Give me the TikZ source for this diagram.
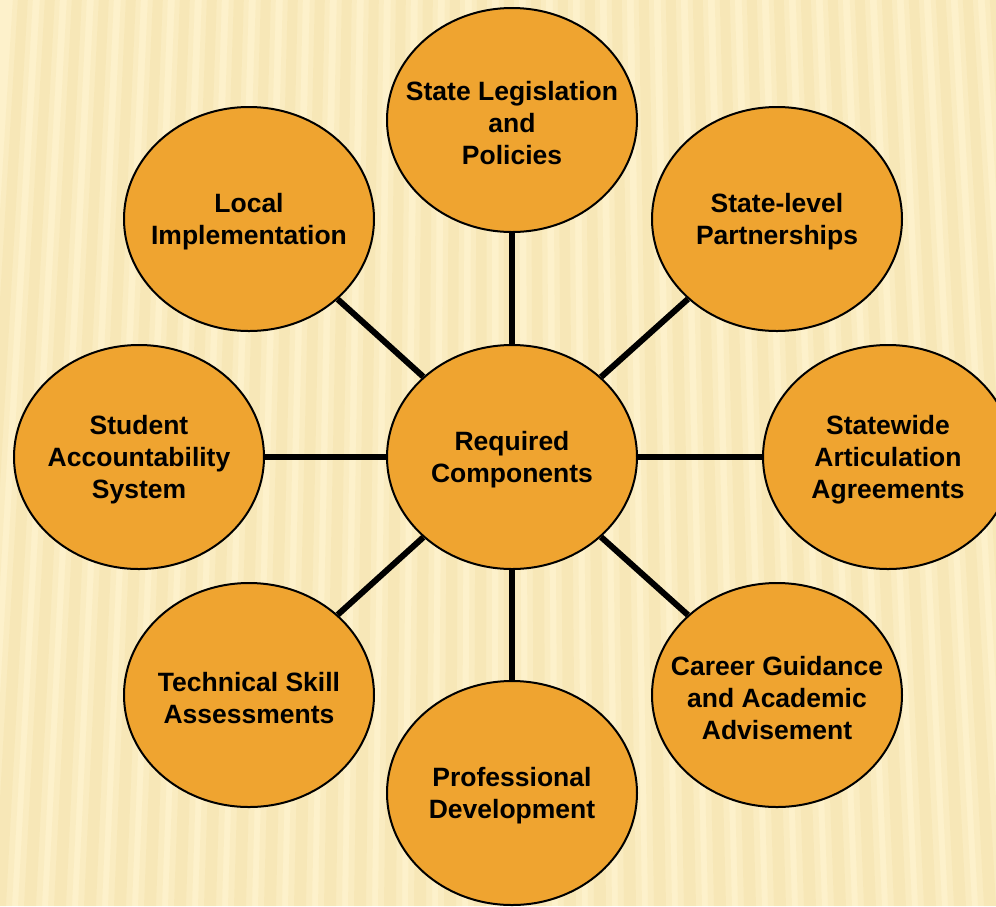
\documentclass[tikz,border=0pt]{standalone}
\usepackage{fontspec}
\setmainfont{Liberation Sans}
\usetikzlibrary{shapes.geometric}
\definecolor{bgcream}{HTML}{FDF1CB}
\definecolor{stripecol}{HTML}{EED691}
\definecolor{bubblecol}{HTML}{EFA430}
\tikzset{
  bubble/.style={ellipse, draw=black, line width=2pt, fill=bubblecol,
    minimum width=250pt, minimum height=224pt, inner sep=0pt},
  bubbletext/.style={align=center, inner sep=0pt, yshift=-3pt,
    font=\fontsize{26.5}{32}\selectfont\bfseries, text=black},
  conn/.style={draw=black, line width=6pt}
}
\begin{document}
\begin{tikzpicture}[x=1pt,y=-1pt]
\useasboundingbox (0,0) rectangle (996,906);
\begin{scope}
\clip (0,0) rectangle (996,906);
\fill[bgcream] (0,0) rectangle (996,906);
\foreach \x in {-30,0,...,1050} {
  \pgfmathsetmacro{\tx}{498+(\x-498)*0.9}
  \fill[stripecol, opacity=0.16] (\tx-10,0) -- (\tx+10,0) -- (\x+12,906) -- (\x-12,906) -- cycle;
  \fill[stripecol, opacity=0.2] (\tx-5,0) -- (\tx+5,0) -- (\x+6,906) -- (\x-6,906) -- cycle;
}
\end{scope}

\node[bubble, label={[bubbletext]center:Required\\Components}] (c) at (512,457) {};
\node[bubble, label={[bubbletext]center:State Legislation\\and\\Policies}] (t) at (512,120) {};
\node[bubble, label={[bubbletext]center:State-level\\Partnerships}] (tr) at (777,219) {};
\node[bubble, label={[bubbletext]center:Statewide\\Articulation\\Agreements}] (r) at (888,457) {};
\node[bubble, label={[bubbletext]center:Career Guidance\\and Academic\\Advisement}] (br) at (777,695) {};
\node[bubble, label={[bubbletext]center:Professional\\Development}] (b) at (512,793) {};
\node[bubble, label={[bubbletext]center:Technical Skill\\Assessments}] (bl) at (249,695) {};
\node[bubble, label={[bubbletext]center:Student\\Accountability\\System}] (l) at (139,457) {};
\node[bubble, label={[bubbletext]center:Local\\Implementation}] (tl) at (249,219) {};

\foreach \n in {t,tr,r,br,b,bl,l,tl} {
  \draw[conn] (c) -- (\n);
}
\end{tikzpicture}
\end{document}
